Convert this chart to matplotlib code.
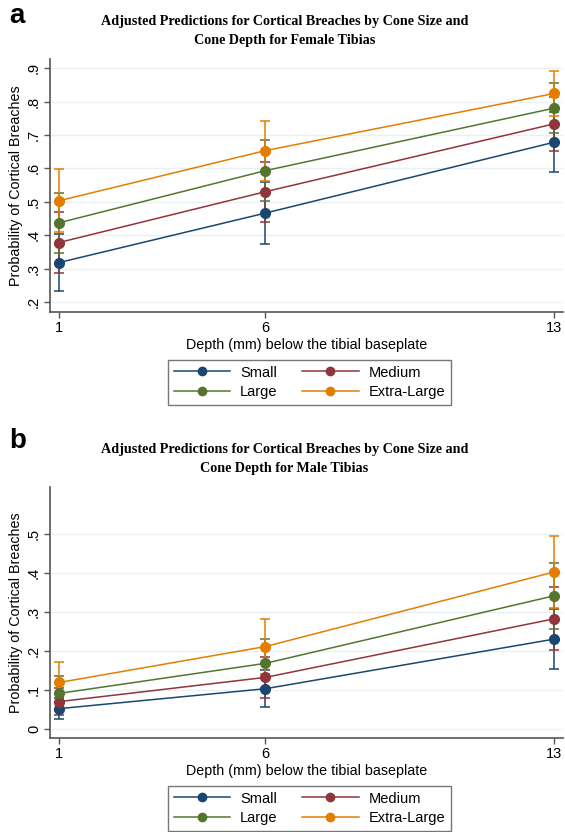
import numpy as np
import matplotlib
matplotlib.use('Agg')
import matplotlib.pyplot as plt
from matplotlib.lines import Line2D
from matplotlib.ticker import FuncFormatter

plt.rcParams['font.family'] = ['Liberation Sans', 'DejaVu Sans']

# depth positions (mm)
depths = [1, 6, 13]
sizes = ['Small', 'Medium', 'Large', 'Extra-Large']
colors = ['#1a476f', '#90353b', '#55752f', '#e37e00']

# female tibias: predicted probability and CI half-width
female_pred = {
    'Small':       [0.318, 0.466, 0.678],
    'Medium':      [0.378, 0.530, 0.733],
    'Large':       [0.437, 0.593, 0.780],
    'Extra-Large': [0.503, 0.653, 0.824],
}
female_err = {
    'Small':       [0.085, 0.092, 0.090],
    'Medium':      [0.090, 0.090, 0.080],
    'Large':       [0.090, 0.092, 0.075],
    'Extra-Large': [0.095, 0.090, 0.068],
}

# male tibias
male_pred = {
    'Small':       [0.053, 0.104, 0.231],
    'Medium':      [0.071, 0.133, 0.283],
    'Large':       [0.092, 0.169, 0.342],
    'Extra-Large': [0.120, 0.212, 0.403],
}
male_err = {
    'Small':       [0.027, 0.047, 0.076],
    'Medium':      [0.035, 0.053, 0.081],
    'Large':       [0.045, 0.062, 0.084],
    'Extra-Large': [0.052, 0.071, 0.091],
}

female_ticks = [0.2, 0.3, 0.4, 0.5, 0.6, 0.7, 0.8, 0.9]
male_ticks = [0, 0.1, 0.2, 0.3, 0.4, 0.5]


def stata_fmt(v, pos):
    if abs(v) < 1e-9:
        return '0'
    return ('%.1f' % v).lstrip('0')


def draw_panel(fig, rect, pred, err, yticks, ylim, title, letter, letter_y, title_y):
    ax = fig.add_axes(rect)
    for s, c in zip(sizes, colors):
        ax.errorbar(depths, pred[s], yerr=err[s], color=c, marker='o', markersize=7,
                    linewidth=1.1, elinewidth=1.1, capsize=3.5, capthick=1.1,
                    zorder=3)
    ax.set_xlim(0.78, 13.22)
    ax.set_ylim(*ylim)
    ax.set_xticks(depths)
    ax.set_yticks(yticks)
    ax.yaxis.set_major_formatter(FuncFormatter(stata_fmt))
    for lab in ax.get_yticklabels():
        lab.set_rotation(90)
        lab.set_va('center')
    ax.tick_params(labelsize=10.5, length=4, color='#555555', width=1, pad=2.5)
    ax.spines['top'].set_visible(False)
    ax.spines['right'].set_visible(False)
    for sp in ('left', 'bottom'):
        ax.spines[sp].set_color('#555555')
        ax.spines[sp].set_linewidth(1.2)
    ax.yaxis.grid(True, color='#eaf0f3', linewidth=1.0)
    ax.set_axisbelow(True)
    ax.set_ylabel('Probability of Cortical Breaches', fontsize=10.3, labelpad=3)
    ax.set_xlabel('Depth (mm) below the tibial baseplate', fontsize=10.3, labelpad=2)

    fig.text(0.503, title_y, title, ha='center', va='center', fontsize=10.2,
             fontweight='bold', family='Liberation Serif', linespacing=1.6)
    fig.text(0.016, letter_y, letter, ha='left', va='center', fontsize=20,
             fontweight='bold')

    handles = [Line2D([], [], color=c, marker='o', markersize=6, linewidth=1.1)
               for c in colors]
    order = [0, 2, 1, 3]
    leg = ax.legend([handles[i] for i in order], [sizes[i] for i in order], ncol=2,
                    loc='upper center', bbox_to_anchor=(0.506, -0.16),
                    frameon=True, fancybox=False, edgecolor='#555555',
                    fontsize=10.5, handlelength=3.85, columnspacing=1.7,
                    handletextpad=0.7, labelspacing=0.35, borderpad=0.4)
    leg.get_frame().set_linewidth(1.0)
    return ax


fig = plt.figure(figsize=(5.65, 8.32), dpi=100)
fig.patch.set_facecolor('white')

draw_panel(fig, [0.0885, 0.625, 0.908, 0.304], female_pred, female_err,
           female_ticks, (0.17, 0.927),
           'Adjusted Predictions for Cortical Breaches by Cone Size and\nCone Depth for Female Tibias',
           'a', 0.981, 0.963)
draw_panel(fig, [0.0885, 0.1126, 0.908, 0.3017], male_pred, male_err,
           male_ticks, (-0.023, 0.62),
           'Adjusted Predictions for Cortical Breaches by Cone Size and\nCone Depth for Male Tibias',
           'b', 0.470, 0.448)

fig.savefig('out.png', dpi=100)
